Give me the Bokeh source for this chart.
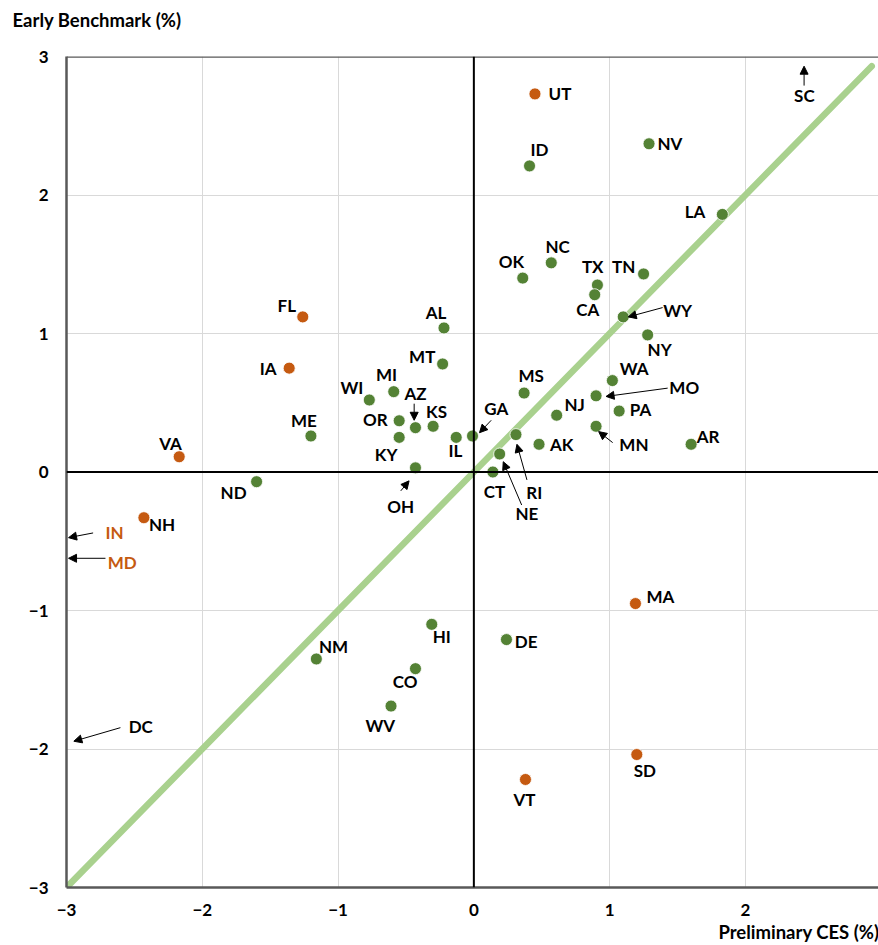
from bokeh.plotting import figure
from bokeh.models import ColumnDataSource, Span, Arrow, NormalHead, Label, FixedTicker, Title
from bokeh.embed import file_html
from bokeh.resources import INLINE
from bokeh.core.properties import value

# ---------------- data ----------------
states = ["UT", "ID", "NV", "LA", "NC", "OK", "TX", "CA", "TN", "WY", "NY",
          "FL", "IA", "AL", "MT", "MI", "WI", "AZ", "KS", "OR", "KY", "IL",
          "GA", "ME", "VA", "ND", "NH", "OH", "MS", "NJ", "WA", "MO", "PA",
          "MN", "AK", "AR", "RI", "NE", "CT", "MA", "DE", "HI", "NM", "CO",
          "WV", "SD", "VT"]
prelim_ces = [0.45, 0.41, 1.29, 1.83, 0.57, 0.36, 0.91, 0.89, 1.25, 1.10, 1.28,
              -1.26, -1.36, -0.22, -0.23, -0.59, -0.77, -0.43, -0.30, -0.55, -0.55, -0.13,
              -0.01, -1.20, -2.17, -1.60, -2.43, -0.43, 0.37, 0.61, 1.02, 0.90, 1.07,
              0.90, 0.48, 1.60, 0.31, 0.19, 0.14, 1.19, 0.24, -0.31, -1.16, -0.43,
              -0.61, 1.20, 0.38]
early_bench = [2.73, 2.21, 2.37, 1.86, 1.51, 1.40, 1.35, 1.28, 1.43, 1.12, 0.99,
               1.12, 0.75, 1.04, 0.78, 0.58, 0.52, 0.32, 0.33, 0.37, 0.25, 0.25,
               0.26, 0.26, 0.11, -0.07, -0.33, 0.03, 0.57, 0.41, 0.66, 0.55, 0.44,
               0.33, 0.20, 0.20, 0.27, 0.13, 0.00, -0.95, -1.21, -1.10, -1.35, -1.42,
               -1.69, -2.04, -2.22]
highlight = ["UT", "FL", "IA", "VA", "NH", "MA", "SD", "VT"]

# off-scale states (label anchor, arrow tail, arrow head in data units)
offscale = {
    "SC": dict(lab=(2.434, 2.72), tail=(2.432, 2.79), head=(2.432, 2.93), align="center", color="black"),
    "IN": dict(lab=(-2.713, -0.44), tail=(-2.804, -0.44), head=(-2.985, -0.474), align="left", color="#C55A11"),
    "MD": dict(lab=(-2.696, -0.65), tail=(-2.713, -0.623), head=(-2.985, -0.623), align="left", color="#C55A11"),
    "DC": dict(lab=(-2.542, -1.841), tail=(-2.603, -1.846), head=(-2.946, -1.944), align="left", color="black"),
}

x_ticks = [-3, -2, -1, 0, 1, 2]
y_ticks = [-3, -2, -1, 0, 1, 2, 3]
grid_ticks = [-2, -1, 1, 2]
diag = [-3.0, 2.93]

# label placement: (align, dx px, dy px down) relative to the point
label_place = {
    "UT": ("left", 13.6, 0), "ID": ("center", 10, -16), "NV": ("left", 8.4, 0),
    "LA": ("right", -17, -3), "NC": ("center", 6.3, -16.6), "OK": ("center", -11.4, -17),
    "TX": ("center", -4.7, -18.7), "CA": ("center", -7, 15), "TN": ("right", -8.3, -7.3),
    "WY": ("left", 40, -6.7), "NY": ("center", 12, 15), "FL": ("right", -6.7, -11.7),
    "IA": ("right", -12.6, 0), "ME": ("center", -7, -15.7), "WI": ("right", -6, -12),
    "MI": ("center", -7.3, -17.6), "AZ": ("center", 0, -34), "OR": ("right", -11.4, -1),
    "KY": ("center", -13, 17.6), "OH": ("center", -14.7, 38.7), "AL": ("center", -8, -15),
    "MT": ("right", -7.3, -7), "KS": ("center", 3.4, -14.7), "IL": ("center", -0.7, 13.3),
    "GA": ("center", 23.7, -27.3), "MS": ("center", 7, -17.3), "NJ": ("left", 7.7, -10.7),
    "CT": ("center", 1.7, 19), "RI": ("center", 18.4, 57.7), "NE": ("center", 27.3, 59.4),
    "AK": ("left", 11, 0), "MN": ("left", 23.3, 18.3), "PA": ("left", 10.7, -1.7),
    "MO": ("left", 73.3, -8.4), "WA": ("left", 7.3, -12.3), "AR": ("left", 5.7, -8),
    "HI": ("center", 10, 12.3), "DE": ("left", 8.3, 2.3), "NM": ("left", 2.6, -12.7),
    "CO": ("center", -10.3, 13.3), "WV": ("center", -10.7, 19.7), "VT": ("center", -1, 20),
    "SD": ("center", 8, 16), "MA": ("left", 11, -7), "VA": ("center", -8.7, -13.3),
    "ND": ("right", -10, 10.7), "NH": ("left", 5, 6.7),
}
# leader arrows: (tail dx, dy, head dx, dy) px relative to the point
leaders = {
    "WY": (39.4, -9.3, 5, 0), "AZ": (-1.3, -24, -1.3, -7.4), "OH": (-14.7, 23, -6.4, 13),
    "GA": (18.7, -15.7, 7, -3.3), "RI": (11, 45.3, 1, 9.7), "NE": (22, 51, 3.6, 7.7),
    "MN": (16.6, 16.3, 2.6, 5.3), "MO": (71.6, -7.7, 10, 0.6),
}

# ---------------- figure ----------------
W, H = 878, 945
BL, BR, BT, BB = 66, 0, 56, 58
X0, X1 = -3.0, 2.98
Y0, Y1 = -3.0, 3.0
XPX = (W - BL - BR) / (X1 - X0)
YPX = (H - BT - BB) / (Y1 - Y0)

FONT = value("Lato")
GREEN = "#548235"
ORANGE = "#C55A11"
LABEL_SIZE = "17px"

p = figure(width=W, height=H, x_range=(X0, X1), y_range=(Y0, Y1), title=None,
           output_backend="svg", toolbar_location=None,
           min_border_left=BL, min_border_right=BR, min_border_top=BT, min_border_bottom=BB)
p.outline_line_color = None
p.background_fill_color = "white"
p.border_fill_color = "white"

for ax, ticks in ((p.xaxis[0], x_ticks), (p.yaxis[0], y_ticks)):
    ax.ticker = FixedTicker(ticks=ticks)
    ax.axis_line_color = "#595959"
    ax.axis_line_width = 2.5
    ax.major_tick_line_color = None
    ax.minor_tick_line_color = None
    ax.major_tick_out = 0
    ax.major_tick_in = 0
    ax.major_label_standoff = 18
    ax.major_label_text_font = "Lato"
    ax.major_label_text_font_style = "bold"
    ax.major_label_text_font_size = "17px"
    ax.major_label_text_color = "black"
p.xaxis[0].major_label_standoff = 16

for g in (p.xgrid[0], p.ygrid[0]):
    g.ticker = FixedTicker(ticks=grid_ticks)
    g.grid_line_color = "#D9D9D9"
    g.grid_line_width = 1

p.add_layout(Span(location=Y1, dimension="width", line_color="#595959", line_width=2.5))
p.add_layout(Span(location=0, dimension="width", line_color="black", line_width=2))
p.add_layout(Span(location=0, dimension="height", line_color="black", line_width=2))

p.line(diag, diag, line_color="#A9D18E", line_width=6.5, line_cap="round")

colors = [ORANGE if s in highlight else GREEN for s in states]
src = ColumnDataSource(dict(x=prelim_ces, y=early_bench, c=colors, s=states))
p.scatter("x", "y", source=src, size=12, fill_color="c", line_color="white", line_width=0.8)

# labels
for align in ("left", "center", "right"):
    lx, ly, lt = [], [], []
    for s, x, y in zip(states, prelim_ces, early_bench):
        a, dx, dy = label_place[s]
        if a != align:
            continue
        lx.append(x + dx / XPX)
        ly.append(y - dy / YPX)
        lt.append(s)
    p.text(x=lx, y=ly, text=lt, text_font=FONT, text_font_style="bold",
           text_font_size=LABEL_SIZE, text_color="black", text_align=align,
           text_baseline="middle")

def head():
    return NormalHead(size=8, fill_color="black", line_color="black", line_width=1)

for s, (tx, ty, hx, hy) in leaders.items():
    i = states.index(s)
    x, y = prelim_ces[i], early_bench[i]
    p.add_layout(Arrow(end=head(), x_start=x + tx / XPX, y_start=y - ty / YPX,
                       x_end=x + hx / XPX, y_end=y - hy / YPX,
                       line_color="black", line_width=1))

for s, d in offscale.items():
    p.add_layout(Label(x=d["lab"][0], y=d["lab"][1], text=s, text_font="Lato",
                       text_font_style="bold", text_font_size=LABEL_SIZE,
                       text_color=d["color"], text_align=d["align"], text_baseline="middle"))
    p.add_layout(Arrow(end=head(), x_start=d["tail"][0], y_start=d["tail"][1],
                       x_end=d["head"][0], y_end=d["head"][1],
                       line_color="black", line_width=1))

# axis titles (trailing blank line lifts the y title toward the top edge)
p.add_layout(Title(text="Early Benchmark (%)\n ", align="left", offset=-54, standoff=8,
                   vertical_align="bottom",
                   text_font="Lato", text_font_style="bold", text_font_size="18.5px",
                   text_color="black"), "above")
p.add_layout(Title(text="Preliminary CES (%)", align="right", offset=-1, standoff=0,
                   text_font="Lato", text_font_style="bold", text_font_size="18.5px",
                   text_color="black"), "below")

open("out.html", "w").write(file_html(p, INLINE))
